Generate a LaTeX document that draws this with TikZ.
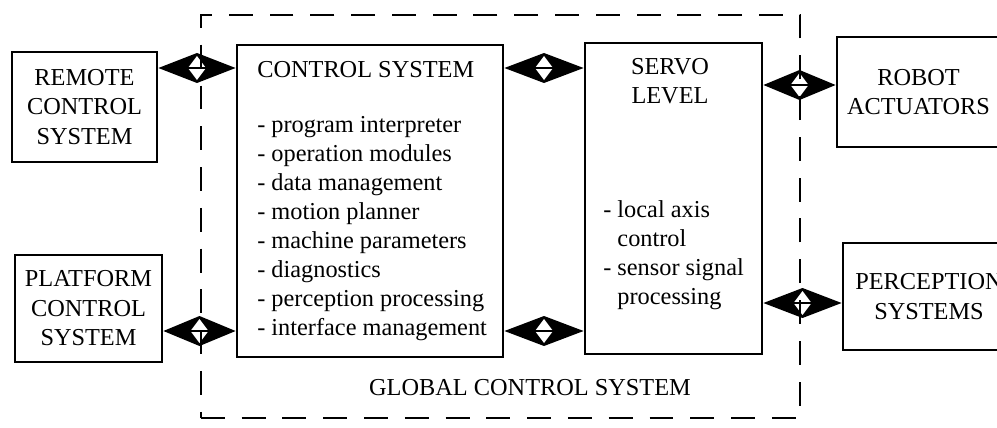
\documentclass[tikz,border=0pt]{standalone}
\usepackage{fontspec}
\setmainfont{Liberation Serif}
\usetikzlibrary{calc}
\tikzset{
	sysbox/.style = {draw=black, line width=2pt, align=center, inner sep=0pt,
		font=\fontsize{17.3}{21}\selectfont},% system block
	txt/.style = {align=left, inner sep=0pt, anchor=west,
		font=\fontsize{17.3}{20.6}\selectfont},% free text in a block
	globalframe/.style = {draw=black, line width=2pt,
		dash pattern=on 17pt off 12pt}% global control system
}
% double link: black diamond, white core, bar
\newcommand{\biarrow}[2]{%
	\fill ($(#1)$) -- ($(#1)!0.5!(#2)+(0,-15)$) -- ($(#2)$) -- ($(#1)!0.5!(#2)+(0,15)$) -- cycle;
	\fill[white] ($(#1)!0.5!(#2)+(-9,0)$) -- ++(9,-12) -- ++(9,12) -- ++(-9,12) -- cycle;
	\draw[line width=1.6pt] ($(#1)!0.5!(#2)+(-10,0)$) -- ++(20,0);
}

\begin{document}
\begin{tikzpicture}[x=0.025cm, y=-0.025cm]
	\useasboundingbox (0,0) rectangle (997,427);
	\clip (0,0) rectangle (997,427);
	% blocks
	\node[sysbox, minimum width=3.625cm, minimum height=2.75cm] (remote) at (84.5,107)
		{REMOTE\\CONTROL\\SYSTEM};
	\node[sysbox, minimum width=3.675cm, minimum height=2.675cm] (platform) at (88.5,308.5)
		{PLATFORM\\CONTROL\\SYSTEM};
	\node[sysbox, minimum width=6.65cm, minimum height=7.8cm] (ctrl) at (370,201) {};
	\node[sysbox, minimum width=4.425cm, minimum height=7.775cm] (servo) at (673.5,198.5) {};
	\node[sysbox, minimum width=4.075cm, minimum height=2.75cm] (robot) at (918.5,92)
		{ROBOT\\ACTUATORS};
	\node[sysbox, minimum width=4.3cm, minimum height=2.675cm] (percep) at (929,296.5)
		{PERCEPTION\\SYSTEMS};
	% texts inside the blocks
	\node[txt] (ctrlhead) at (257,70) {CONTROL SYSTEM};
	\node[txt] (ctrllist) at (257,228.5) {- program interpreter\\- operation modules\\
		- data management\\- motion planner\\- machine parameters\\- diagnostics\\
		- perception processing\\- interface management};
	\node[txt, align=center, anchor=center] (servohead) at (670,81) {SERVO\\LEVEL};
	\node[txt] (servolist) at (603,255) {- local axis\\\hphantom{- }control\\
		- sensor signal\\\hphantom{- }processing};
	% rows of the links
	\coordinate (toprow) at (0,68);
	\coordinate (botrow) at (0,331);
	\coordinate (rtoprow) at (0,85);
	\coordinate (rbotrow) at (0,303);
	\biarrow{remote.east |- toprow}{ctrl.west |- toprow}
	\biarrow{platform.east |- botrow}{ctrl.west |- botrow}
	\biarrow{ctrl.east |- toprow}{servo.west |- toprow}
	\biarrow{ctrl.east |- botrow}{servo.west |- botrow}
	\biarrow{servo.east |- rtoprow}{robot.west |- rtoprow}
	\biarrow{servo.east |- rbotrow}{percep.west |- rbotrow}
	% global frame
	\node[globalframe, minimum width=14.975cm, minimum height=10.075cm] (global) at (500.5,216.5) {};
	\node[txt, anchor=center] (globallabel) at (530,388) {GLOBAL CONTROL SYSTEM};
\end{tikzpicture}
\end{document}
